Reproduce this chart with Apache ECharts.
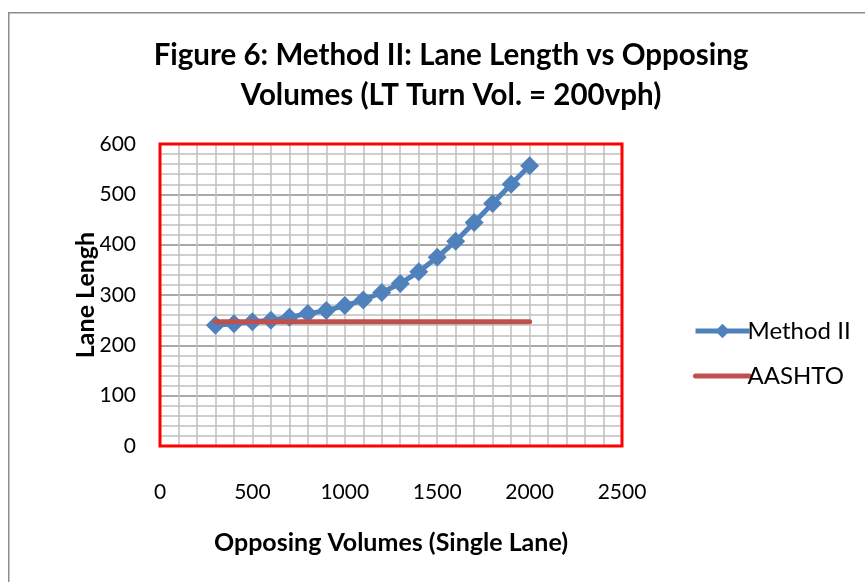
<!DOCTYPE html>
<html>
<head>
<meta charset="utf-8">
<script src="https://cdn.jsdelivr.net/npm/echarts@6/dist/echarts.min.js"></script>
<style>
html,body{margin:0;padding:0;background:#fff;}
#chart{width:865px;height:582px;}
</style>
</head>
<body>
<div id="chart"></div>
<script>
const titleText = 'Figure 6: Method II: Lane Length vs Opposing\nVolumes (LT Turn Vol. = 200vph)';
const xAxisName = 'Opposing Volumes (Single Lane)';
const yAxisName = 'Lane Lengh';
const seriesNames = ['Method II', 'AASHTO'];
const opposingVolumes = [300, 400, 500, 600, 700, 800, 900, 1000, 1100, 1200, 1300, 1400, 1500, 1600, 1700, 1800, 1900, 2000];
const methodII = [240, 243, 247, 250, 256, 263, 269, 279, 290, 305, 323, 346, 375, 407, 444, 482, 520, 557];
const aashtoX = [300, 2000];
const aashto = [247, 247];

const FONT = 'Lato, "Open Sans", sans-serif';
const chart = echarts.init(document.getElementById('chart'), null, {renderer: 'canvas'});
chart.setOption({
  backgroundColor: '#ffffff',
  animation: false,
  graphic: [{
    type: 'rect', left: 8, top: 12, z: -10,
    shape: {width: 900, height: 620},
    style: {fill: '#ffffff', stroke: '#8c8c8c', lineWidth: 1.5}
  }],
  title: {
    text: titleText, left: 446, top: 30, textAlign: 'center',
    textStyle: {fontFamily: FONT, fontWeight: 'bold', fontSize: 29.5, lineHeight: 40, color: '#000'}
  },
  legend: {
    orient: 'vertical', left: 688, top: 314, itemGap: 21,
    itemWidth: 54, itemHeight: 18,
    textStyle: {fontFamily: FONT, fontSize: 24, color: '#000', padding: [0,0,0,-7]},
    data: [
      {name: seriesNames[0], lineStyle: {width: 5}},
      {name: seriesNames[1], lineStyle: {width: 5}, itemStyle: {opacity: 0}}
    ]
  },
  grid: {
    left: 160, top: 144, width: 462, height: 302,
    show: true, borderColor: '#ff0000', borderWidth: 3, backgroundColor: 'transparent', z: 2
  },
  xAxis: {
    type: 'value', min: 0, max: 2500, interval: 500,
    name: xAxisName, nameLocation: 'middle', nameGap: 84,
    nameTextStyle: {fontFamily: FONT, fontWeight: 'bold', fontSize: 25, color: '#000'},
    axisLine: {show: true, lineStyle: {color: '#8c8c8c', width: 1}},
    axisTick: {show: false},
    axisLabel: {fontFamily: FONT, fontSize: 21, color: '#000', margin: 36, formatter: v => String(v)},
    splitLine: {show: true, showMinLine: false, showMaxLine: false, lineStyle: {color: '#c0c0c0', width: 1.5}},
    minorTick: {show: false, splitNumber: 5},
    minorSplitLine: {show: true, lineStyle: {color: '#c0c0c0', width: 1.5}}
  },
  yAxis: {
    type: 'value', min: 0, max: 600, interval: 100,
    name: yAxisName, nameLocation: 'middle', nameGap: 62, nameMoveOverlap: false,
    nameTextStyle: {fontFamily: FONT, fontWeight: 'bold', fontSize: 25, color: '#000'},
    axisLine: {show: true, lineStyle: {color: '#8c8c8c', width: 1}},
    axisTick: {show: false},
    axisLabel: {fontFamily: FONT, fontSize: 21, color: '#000', margin: 24},
    splitLine: {show: true, showMinLine: false, showMaxLine: false, lineStyle: {color: '#8c8c8c', width: 1.5}},
    minorTick: {show: false, splitNumber: 5},
    minorSplitLine: {show: true, lineStyle: {color: '#c0c0c0', width: 1.5}}
  },
  series: [
    {
      name: seriesNames[0], type: 'line',
      data: opposingVolumes.map((x, i) => [x, methodII[i]]),
      symbol: 'diamond', symbolSize: 19, showSymbol: true,
      lineStyle: {color: '#4f81bd', width: 5},
      itemStyle: {color: '#4f81bd'},
      z: 3
    },
    {
      name: seriesNames[1], type: 'line',
      data: aashtoX.map((x, i) => [x, aashto[i]]),
      symbol: 'none',
      lineStyle: {color: '#c0504d', width: 5, cap: 'round'},
      itemStyle: {color: '#c0504d'},
      z: 4
    }
  ]
});
</script>
</body>
</html>
